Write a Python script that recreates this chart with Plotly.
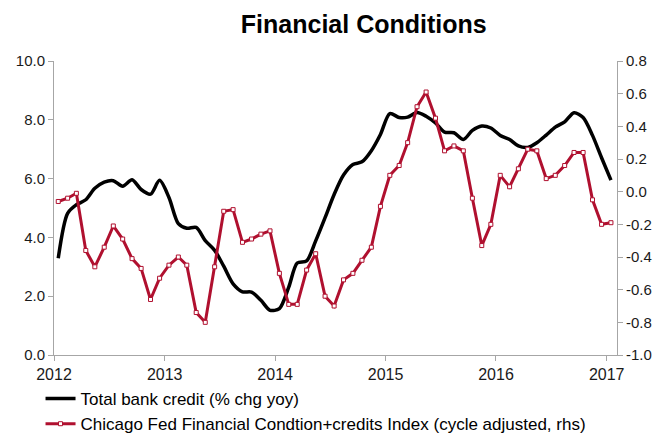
import pandas as pd
import plotly.graph_objects as go

# Monthly observations, Jan 2012 - Jan 2017 (plotted mid-month)
months = pd.date_range("2012-01-01", periods=61, freq="MS") + pd.Timedelta(days=14)

# Total bank credit, % change year on year (left axis)
bank_credit = [
    3.29, 4.82, 5.11, 5.28, 5.67, 5.88, 5.93, 5.74, 5.96, 5.63, 5.47, 5.94,
    5.36, 4.47, 4.31, 4.34, 3.89, 3.56, 3.02, 2.42, 2.15, 2.14, 1.86, 1.52,
    1.58, 2.31, 3.13, 3.20, 3.88, 4.67, 5.46, 6.12, 6.48, 6.57, 6.95, 7.50,
    8.21, 8.08, 8.09, 8.25, 8.12, 7.89, 7.58, 7.56, 7.33, 7.64, 7.79, 7.72,
    7.47, 7.33, 7.11, 7.06, 7.22, 7.48, 7.75, 7.93, 8.24, 8.08, 7.47, 6.71,
    5.95,
]

# Chicago Fed financial conditions + credit index, cycle adjusted (right axis)
chicago_fed = [
    -0.06, -0.04, -0.01, -0.36, -0.46, -0.34, -0.21, -0.29, -0.41, -0.47, -0.66, -0.53,
    -0.45, -0.40, -0.45, -0.74, -0.80, -0.46, -0.12, -0.11, -0.31, -0.29, -0.26, -0.24,
    -0.50, -0.69, -0.69, -0.48, -0.38, -0.64, -0.70, -0.54, -0.50, -0.42, -0.34, -0.09,
    0.10, 0.16, 0.30, 0.52, 0.61, 0.45, 0.25, 0.28, 0.25, -0.04, -0.33, -0.20,
    0.10, 0.03, 0.14, 0.26, 0.25, 0.08, 0.10, 0.16, 0.24, 0.24, -0.05, -0.20,
    -0.19,
]

left_ticks = [0, 2, 4, 6, 8, 10]
right_ticks = [-1.0, -0.8, -0.6, -0.4, -0.2, 0.0, 0.2, 0.4, 0.6, 0.8]
right_labels = [f"{v:.1f}" for v in right_ticks]

RED = "#b0102f"
AXIS = "#a6a6a6"
FONT = "Liberation Sans, Arial, sans-serif"

fig = go.Figure()

fig.add_trace(go.Scatter(
    x=months, y=bank_credit,
    name="Total bank credit (% chg yoy)",
    mode="lines",
    line=dict(color="black", width=3.5, shape="spline", smoothing=0.8),
    legendgroup="a",
))

fig.add_trace(go.Scatter(
    x=months, y=chicago_fed,
    name="Chicago Fed Financial Condtion+credits Index (cycle adjusted, rhs)",
    mode="lines+markers",
    line=dict(color=RED, width=3),
    marker=dict(symbol="square", size=4, color="white",
                line=dict(color=RED, width=1)),
    yaxis="y2",
    legendgroup="b",
))

fig.update_layout(
    width=659, height=436,
    margin=dict(l=54, r=42, t=61, b=81, autoexpand=False),
    paper_bgcolor="white", plot_bgcolor="white",
    font=dict(family=FONT, color="#1a1a1a", size=15),
    title=dict(
        text="<b>Financial Conditions</b>",
        font=dict(size=25, color="black", family=FONT),
        xref="container", x=0.552, xanchor="center",
        yref="container", y=0.945, yanchor="middle",
    ),
    xaxis=dict(
        type="date",
        range=["2012-01-01", "2017-02-04"],
        tick0="2012-01-01", dtick="M12", tickformat="%Y",
        ticks="outside", ticklen=5, tickcolor=AXIS,
        showline=True, linecolor=AXIS, linewidth=1,
        showgrid=False, zeroline=False, automargin=False,
        tickfont=dict(size=16),
    ),
    yaxis=dict(
        range=[0, 10],
        tickvals=left_ticks,
        ticktext=[f"{v:.1f}" for v in left_ticks],
        ticks="outside", ticklen=5, tickcolor=AXIS,
        showline=True, linecolor=AXIS, linewidth=1,
        showgrid=False, zeroline=False, automargin=False,
        tickfont=dict(size=15),
    ),
    yaxis2=dict(
        range=[-1.0, 0.8],
        overlaying="y", side="right",
        tickvals=right_ticks, ticktext=right_labels,
        ticks="outside", ticklen=5, tickcolor=AXIS,
        showline=True, linecolor=AXIS, linewidth=1,
        showgrid=False, zeroline=False, automargin=False,
        tickfont=dict(size=15),
    ),
    showlegend=True,
    legend=dict(
        orientation="v",
        xref="container", x=0.0615, xanchor="left",
        yref="container", y=0.126, yanchor="top",
        font=dict(size=17, color="black"),
        bgcolor="rgba(0,0,0,0)",
        traceorder="grouped", tracegroupgap=0,
        itemwidth=30,
    ),
)

fig.write_html("out.html")
